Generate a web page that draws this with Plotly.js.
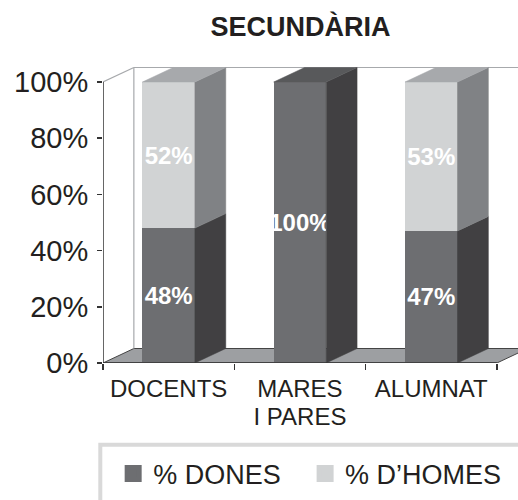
<!DOCTYPE html>
<html>
<head>
<meta charset="utf-8">
<script src="https://cdn.plot.ly/plotly-3.0.1.min.js"></script>
<style>html,body{margin:0;padding:0;background:#fff;}#chart{width:518px;height:500px;}</style>
</head>
<body>
<div id="chart"></div>
<script>
// ---- data ----
var categories = ["DOCENTS", "MARES<br>I PARES", "ALUMNAT"];
var dones = [48, 100, 47];
var homes = [52, 0, 53];
var seriesNames = ["% DONES", "% D\u2019HOMES"];
var yTickVals = [0, 20, 40, 60, 80, 100];
var yTickText = ["0%", "20%", "40%", "60%", "80%", "100%"];

// ---- style ----
var FONT = "Liberation Sans, Arial, Helvetica, sans-serif";
var C = {
  donesFront: "#6d6e71", donesSide: "#414042", donesTop: "#58595b",
  homesFront: "#d1d3d4", homesSide: "#808285", homesTop: "#a7a9ac",
  floor: "#9d9fa2", wall: "#a7a9ac", axis: "#333333"
};
var BW = 0.4;      // bar width (category units)
var DX = 0.235;    // 3D depth in x (category units)
var DY = 5.16;     // 3D depth in y (% units)
var idx = categories.map(function (_, i) { return i; });
var line1 = categories.map(function (c) { return c.split("<br>")[0]; });
var line2 = categories.map(function (c) { return c.split("<br>")[1] || ""; });

function sidePolys(base, vals) {
  var xs = [], ys = [];
  idx.forEach(function (i) {
    var v = vals[i]; if (!v) return;
    var y0 = base ? base[i] : 0, y1 = y0 + v, xr = i + BW / 2;
    xs.push(xr, xr + DX, xr + DX, xr, xr, null);
    ys.push(y0, y0 + DY, y1 + DY, y1, y0, null);
  });
  return {x: xs, y: ys};
}
function topPolys(useHomes) {
  var xs = [], ys = [];
  idx.forEach(function (i) {
    var topIsHomes = homes[i] > 0;
    if (topIsHomes !== useHomes) return;
    var t = dones[i] + homes[i], xl = i - BW / 2, xr = i + BW / 2;
    xs.push(xl, xl + DX, xr + DX, xr, xl, null);
    ys.push(t, t + DY, t + DY, t, t, null);
  });
  return {x: xs, y: ys};
}
function fillTrace(p, color) {
  return {type: "scatter", mode: "lines", x: p.x, y: p.y, fill: "toself",
    fillcolor: color, line: {color: color, width: 0.5}, showlegend: false, hoverinfo: "skip"};
}
function labels(vals) { return vals.map(function (v) { return v ? v + "%" : ""; }); }

var labelFont = {family: FONT, size: 24, color: "#ffffff", weight: "bold"};
var traces = [
  {type: "bar", x: idx, y: dones, width: BW, marker: {color: C.donesFront, line: {width: 0}},
   text: labels(dones), textposition: "inside", insidetextanchor: "middle", textangle: 0, constraintext: "none",
   textfont: labelFont, showlegend: false, hoverinfo: "skip"},
  {type: "bar", x: idx, y: homes, width: BW, marker: {color: C.homesFront, line: {width: 0}},
   text: labels(homes), textposition: "inside", insidetextanchor: "middle", textangle: 0, constraintext: "none",
   textfont: labelFont, showlegend: false, hoverinfo: "skip"},
  // legend entries
  {type: "bar", x: [null], y: [null], name: seriesNames[0], legend: "legend", marker: {color: C.donesFront, line: {color: C.donesFront, width: 5}}, hoverinfo: "skip"},
  {type: "bar", x: [null], y: [null], name: seriesNames[1], legend: "legend2", marker: {color: C.homesFront, line: {color: C.homesFront, width: 5}}, hoverinfo: "skip"},
  fillTrace(sidePolys(null, dones), C.donesSide),
  fillTrace(sidePolys(dones, homes), C.homesSide),
  fillTrace(topPolys(false), C.donesTop),
  fillTrace(topPolys(true), C.homesTop),
  // invisible traces so the overlay axes (boundary ticks, second label line) are drawn
  {type: "scatter", mode: "markers", x: [null], y: [null], xaxis: "x2", showlegend: false, hoverinfo: "skip"},
  {type: "scatter", mode: "markers", x: [null], y: [null], xaxis: "x3", showlegend: false, hoverinfo: "skip"}
];

var xMin = -0.5, xMax = idx.length - 0.5, yMax = yTickVals[yTickVals.length - 1];
var shapes = [
  // floor
  {type: "path", layer: "below", xref: "x", yref: "y",
   path: "M" + xMin + ",0 L" + (xMin + DX) + "," + DY + " L" + (xMax + DX) + "," + DY + " L" + xMax + ",0 Z",
   fillcolor: C.floor, line: {color: "#444", width: 1}},
  // back wall edges
  {type: "line", layer: "below", xref: "x", yref: "y", x0: xMin + DX, y0: DY, x1: xMin + DX, y1: yMax + DY, line: {color: C.wall, width: 1.2}},
  {type: "line", layer: "below", xref: "x", yref: "y", x0: xMin + DX, y0: yMax + DY, x1: xMax + DX + 1, y1: yMax + DY, line: {color: C.wall, width: 1.2}},
  {type: "line", layer: "below", xref: "x", yref: "y", x0: xMin, y0: yMax, x1: xMin + DX, y1: yMax + DY, line: {color: C.wall, width: 1.2}},
  // axis lines
  {type: "line", xref: "x", yref: "y", x0: xMin, y0: 0, x1: xMin, y1: yMax, line: {color: C.axis, width: 1.5}},
  {type: "line", xref: "x", yref: "y", x0: xMin, y0: 0, x1: xMax, y1: 0, line: {color: C.axis, width: 1.5}},
  // legend frame
  {type: "rect", xref: "paper", yref: "paper", x0: -0.0065, x1: 1.2, y0: -0.27, y1: -0.6, line: {color: "#d9d9d9", width: 4}, fillcolor: "rgba(0,0,0,0)"}
];

var xr = [xMin, xMin + 415 / 131.3];
var noAuto = {showgrid: false, zeroline: false, showline: false, fixedrange: true, automargin: false};
function ax(o) { var r = {}; for (var k in noAuto) r[k] = noAuto[k]; for (var k2 in o) r[k2] = o[k2]; return r; }
var legendFont = {family: FONT, size: 27, color: "#231f20"};
var layout = {
  width: 518, height: 500,
  margin: {l: 103, r: 0, t: 60, b: 137, pad: 0, autoexpand: false},
  paper_bgcolor: "#ffffff", plot_bgcolor: "rgba(0,0,0,0)",
  font: {family: FONT, color: "#231f20"},
  barmode: "stack",
  title: {text: "SECUNDÀRIA", x: 0.58, xanchor: "center", y: 0.946, yanchor: "middle",
          font: {family: FONT, size: 27, weight: "bold", color: "#231f20"}},
  xaxis: ax({range: xr, tickmode: "array", tickvals: idx, ticktext: line1, ticks: "", ticklabelstandoff: 9,
          tickangle: 0, tickfont: {family: FONT, size: 24, color: "#231f20"}}),
  xaxis2: ax({overlaying: "x", anchor: "y", side: "bottom", range: xr,
          tickmode: "array", tickvals: [xMin, 0.5, 1.5, xMax], ticks: "outside", ticklen: 6, tickwidth: 1.5, tickcolor: C.axis,
          showticklabels: false}),
  xaxis3: ax({overlaying: "x", anchor: "y", side: "bottom", range: xr,
          tickmode: "array", tickvals: idx, ticktext: line2, ticks: "", ticklabelstandoff: 37, tickangle: 0,
          tickfont: {family: FONT, size: 24, color: "#231f20"}}),
  yaxis: ax({range: [0, 303 / 2.81],
          tickmode: "array", tickvals: yTickVals, ticktext: yTickText, ticks: "outside", ticklen: 5, tickwidth: 1.5, tickcolor: C.axis,
          ticklabelstandoff: 3, tickfont: {family: FONT, size: 29, color: "#231f20"}}),
  showlegend: true,
  legend: {orientation: "h", x: 0.0245, xanchor: "left", y: -0.366, yanchor: "middle",
           font: legendFont, bgcolor: "rgba(0,0,0,0)", borderwidth: 0},
  legend2: {orientation: "h", x: 0.487, xanchor: "left", y: -0.366, yanchor: "middle",
           font: legendFont, bgcolor: "rgba(0,0,0,0)", borderwidth: 0},
  shapes: shapes
};

Plotly.newPlot("chart", traces, layout, {displayModeBar: false, staticPlot: true});
</script>
</body>
</html>
